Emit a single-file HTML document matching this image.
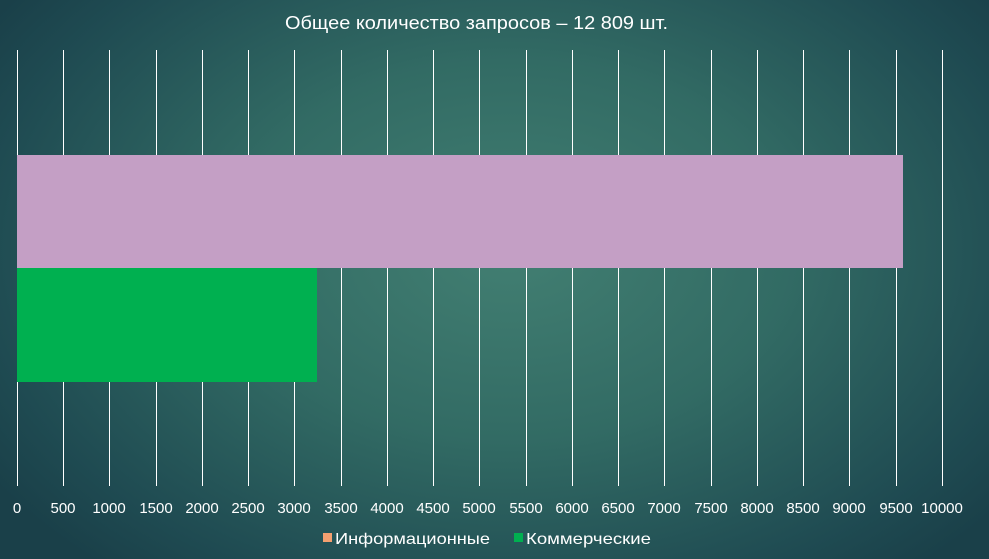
<!DOCTYPE html><html><head><meta charset="utf-8"><style>
html,body{margin:0;padding:0;width:989px;height:559px;overflow:hidden}
body{background:radial-gradient(ellipse 620px 420px at 510px 250px,#427f72 0%,#326b64 45%,#1f4b52 85%,#1a4049 100%)}
text{font-family:"Liberation Sans",sans-serif;fill:#fff}
</style></head><body>
<svg width="989" height="559" xmlns="http://www.w3.org/2000/svg">
<text x="285" y="29" font-size="18" textLength="383" lengthAdjust="spacingAndGlyphs">Общее количество запросов – 12 809 шт.</text>
<g stroke="#fff" stroke-width="1">
<line x1="17.5" y1="50" x2="17.5" y2="486"/><line x1="63.5" y1="50" x2="63.5" y2="486"/><line x1="109.5" y1="50" x2="109.5" y2="486"/><line x1="156.5" y1="50" x2="156.5" y2="486"/><line x1="202.5" y1="50" x2="202.5" y2="486"/><line x1="248.5" y1="50" x2="248.5" y2="486"/><line x1="294.5" y1="50" x2="294.5" y2="486"/><line x1="341.5" y1="50" x2="341.5" y2="486"/><line x1="387.5" y1="50" x2="387.5" y2="486"/><line x1="433.5" y1="50" x2="433.5" y2="486"/><line x1="479.5" y1="50" x2="479.5" y2="486"/><line x1="526.5" y1="50" x2="526.5" y2="486"/><line x1="572.5" y1="50" x2="572.5" y2="486"/><line x1="618.5" y1="50" x2="618.5" y2="486"/><line x1="664.5" y1="50" x2="664.5" y2="486"/><line x1="711.5" y1="50" x2="711.5" y2="486"/><line x1="757.5" y1="50" x2="757.5" y2="486"/><line x1="803.5" y1="50" x2="803.5" y2="486"/><line x1="849.5" y1="50" x2="849.5" y2="486"/><line x1="896.5" y1="50" x2="896.5" y2="486"/><line x1="942.5" y1="50" x2="942.5" y2="486"/>
</g>
<rect x="17" y="155" width="886" height="113" fill="#c49fc5"/>
<rect x="17" y="268" width="300" height="114" fill="#00b050"/>
<g font-size="15" text-anchor="middle">
<text x="17" y="513">0</text><text x="63" y="513">500</text><text x="109" y="513">1000</text><text x="156" y="513">1500</text><text x="202" y="513">2000</text><text x="248" y="513">2500</text><text x="294" y="513">3000</text><text x="341" y="513">3500</text><text x="387" y="513">4000</text><text x="433" y="513">4500</text><text x="479" y="513">5000</text><text x="526" y="513">5500</text><text x="572" y="513">6000</text><text x="618" y="513">6500</text><text x="664" y="513">7000</text><text x="711" y="513">7500</text><text x="757" y="513">8000</text><text x="803" y="513">8500</text><text x="849" y="513">9000</text><text x="896" y="513">9500</text><text x="942" y="513">10000</text>
</g>
<rect x="323" y="533" width="9" height="9" fill="#f4a070"/>
<text x="335" y="544" font-size="16" textLength="155" lengthAdjust="spacingAndGlyphs">Информационные</text>
<rect x="514" y="533" width="9" height="9" fill="#00b050"/>
<text x="526" y="544" font-size="16" textLength="125" lengthAdjust="spacingAndGlyphs">Коммерческие</text>
</svg>
</body></html>
